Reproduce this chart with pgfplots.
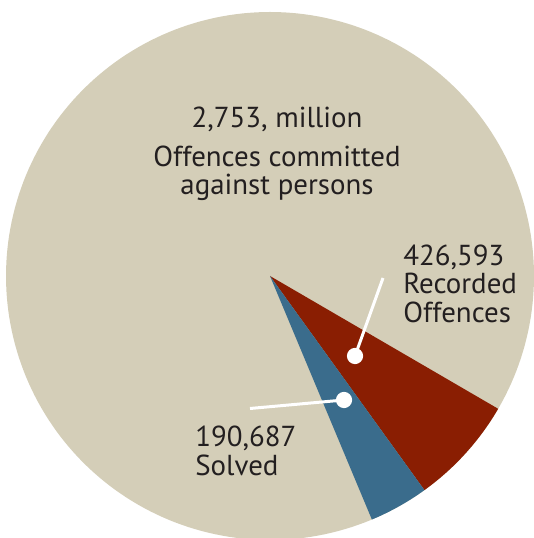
\documentclass[border=0pt]{standalone}
\usepackage{pgfplots}
\pgfplotsset{compat=1.18}
\usepackage{fontspec}
\setmainfont{PT Sans}
\definecolor{bgc}{RGB}{212,206,184}
\definecolor{redc}{RGB}{138,30,2}
\definecolor{bluec}{RGB}{58,108,140}
\definecolor{txt}{RGB}{35,31,32}
\begin{document}
\begin{tikzpicture}
\begin{axis}[
  scale only axis, width=267bp, height=269bp,
  xmin=0, xmax=534, ymin=0, ymax=538,
  hide axis, clip=true,
]
\addplot[draw=none, forget plot] coordinates {(0,0) (534,538)};
% background: offences committed against persons
\addplot[fill=bgc, draw=none, domain=0:360, samples=241] ({270+264*cos(x)},{262+264*sin(x)}) -- cycle;
% recorded offences (not solved part)
\addplot[fill=redc, draw=none, domain=-54.2:-30.2, samples=40] ({270+264*cos(x)},{262+264*sin(x)}) -- (axis cs:270,262) -- cycle;
% solved
\addplot[fill=bluec, draw=none, domain=-67.3:-54.2, samples=30] ({270+264*cos(x)},{262+264*sin(x)}) -- (axis cs:270,262) -- cycle;
% leader lines
\addplot[white, line width=1.5bp, mark=*, mark size=3.3pt, mark indices={2}, mark options={fill=white,draw=white}] coordinates {(383,260) (355,182)};
\addplot[white, line width=1.5bp, mark=*, mark size=3.3pt, mark indices={2}, mark options={fill=white,draw=white}] coordinates {(250,129.5) (344,138)};
% labels
\node[anchor=base, text=txt, font=\fontsize{14.5}{17}\selectfont, inner sep=0pt] at (axis cs:277,410) {2,753, million};
\node[anchor=base, text=txt, font=\fontsize{14.5}{17}\selectfont, inner sep=0pt] at (axis cs:277,371) {Offences committed};
\node[anchor=base, text=txt, font=\fontsize{14.5}{17}\selectfont, inner sep=0pt] at (axis cs:277,343.5) {against persons};
\node[anchor=base west, text=txt, font=\fontsize{14.5}{17}\selectfont, inner sep=0pt] at (axis cs:403,272.5) {426,593};
\node[anchor=base west, text=txt, font=\fontsize{14.5}{17}\selectfont, inner sep=0pt] at (axis cs:403,244) {Recorded};
\node[anchor=base west, text=txt, font=\fontsize{14.5}{17}\selectfont, inner sep=0pt] at (axis cs:403,215.5) {Offences};
\node[anchor=base west, text=txt, font=\fontsize{14.5}{17}\selectfont, inner sep=0pt] at (axis cs:195,91.6) {190,687};
\node[anchor=base west, text=txt, font=\fontsize{14.5}{17}\selectfont, inner sep=0pt] at (axis cs:195,62.6) {Solved};
\end{axis}
\end{tikzpicture}
\end{document}
